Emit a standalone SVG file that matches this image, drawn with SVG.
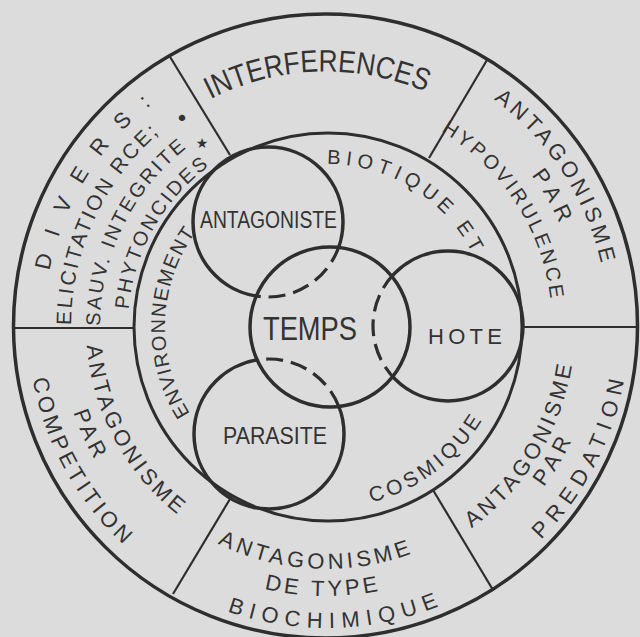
<svg xmlns="http://www.w3.org/2000/svg" width="640" height="637" viewBox="0 0 640 637">
<style>
.ln{fill:none;stroke:#2e2e2e}
.thick{stroke-width:3.5}
.mid{stroke-width:3}
.div{stroke-width:2.2}
.dash{stroke-dasharray:17 8;stroke-width:3.2}
.t{font-family:"Liberation Sans",Arial,sans-serif;fill:#333333}
.sym{font-family:"DejaVu Sans",sans-serif;fill:#333333}
</style>
<defs>
<path id="pInter" d="M155.7,136.9 A254.5,254.5 0 0 1 482.7,125.5"/>
<path id="pH1" d="M453.2,74.3 A282,282 0 0 1 607.6,310.3"/>
<path id="pH2" d="M489.9,130.7 A255,255 0 0 1 577.1,281.7"/>
<path id="pH3" d="M420.8,120.8 A226,226 0 0 1 552,321.3"/>
<path id="pP1" d="M444.1,545.2 A249,249 0 0 0 574.9,333.4"/>
<path id="pP2" d="M497.3,536 A271,271 0 0 0 592.2,376.8"/>
<path id="pP3" d="M497.2,576 A303,303 0 0 0 629,323.9"/>
<path id="pB1" d="M193.7,529.8 A243,243 0 0 0 436.3,542.5"/>
<path id="pB2" d="M207.6,568.7 A270,270 0 0 0 435.8,572.6"/>
<path id="pB3" d="M190.8,596 A302,302 0 0 0 474.3,589.1"/>
<path id="pC1" d="M86.1,318.5 A240,240 0 0 0 199.5,530"/>
<path id="pC2" d="M59.8,346.5 A267,267 0 0 0 135.2,512.8"/>
<path id="pC3" d="M28,329.6 A298,298 0 0 0 162.4,575.1"/>
<path id="pD1" d="M44.5,308.8 A282,282 0 0 1 182.9,83"/>
<path id="pD2" d="M71.5,341.1 A255,255 0 0 1 171.1,123.4"/>
<path id="pD3" d="M100.6,342.2 A226,226 0 0 1 199.3,138.8"/>
<path id="pD4" d="M128,328.6 A198,198 0 0 1 224.8,155.8"/>
<path id="pEnv" d="M200,427.6 A162,162 0 0 1 205.9,219.4"/>
<path id="pBio" d="M308.5,165 A163,163 0 0 1 479.7,269.9"/>
<path id="pCos" d="M341.2,507.4 A181,181 0 0 0 495.4,393.3"/>
<clipPath id="inT"><circle cx="330" cy="327" r="80"/></clipPath>
<mask id="outT" maskUnits="userSpaceOnUse" x="0" y="0" width="640" height="637">
<rect x="0" y="0" width="640" height="637" fill="#fff"/>
<circle cx="330" cy="327" r="80" fill="#000"/>
</mask>
</defs>
<rect x="0" y="0" width="640" height="637" fill="#dcdcdc"/>

<g id="outer-ring">
<circle class="ln thick" cx="325.5" cy="326" r="312"/>
</g>
<g id="environnement-ring">
<circle class="ln mid" cx="328" cy="327" r="194"/>
<text class="t" font-size="20"><textPath href="#pEnv" startOffset="50%" text-anchor="middle" textLength="192">ENVIRONNEMENT</textPath></text>
<text class="t" font-size="20"><textPath href="#pBio" startOffset="50%" text-anchor="middle" textLength="179">BIOTIQUE ET</textPath></text>
<text class="t" font-size="21"><textPath href="#pCos" startOffset="50%" text-anchor="middle" textLength="141">COSMIQUE</textPath></text>
</g>

<g id="connectors">
<line class="ln div" x1="169.5" y1="56" x2="230" y2="155"/>
<line class="ln div" x1="487" y1="60" x2="429" y2="158"/>
<line class="ln div" x1="522" y1="327" x2="637.5" y2="327"/>
<line class="ln div" x1="493" y1="590" x2="433" y2="490"/>
<line class="ln div" x1="173" y1="594" x2="230" y2="499"/>
<line class="ln div" x1="14" y1="328" x2="134" y2="328"/>
</g>

<g id="sector-interferences">
<text class="t" font-size="31"><textPath href="#pInter" startOffset="50%" text-anchor="middle" textLength="222" lengthAdjust="spacingAndGlyphs">INTERFERENCES</textPath></text>
</g>
<g id="sector-hypovirulence">
<text class="t" font-size="22"><textPath href="#pH1" startOffset="50%" text-anchor="middle" textLength="200">ANTAGONISME</textPath></text>
<text class="t" font-size="22"><textPath href="#pH2" startOffset="50%" text-anchor="middle" textLength="56">PAR</textPath></text>
<text class="t" font-size="20"><textPath href="#pH3" startOffset="50%" text-anchor="middle" textLength="207">HYPOVIRULENCE</textPath></text>
</g>
<g id="sector-predation">
<text class="t" font-size="22"><textPath href="#pP1" startOffset="50%" text-anchor="middle" textLength="196">ANTAGONISME</textPath></text>
<text class="t" font-size="22"><textPath href="#pP2" startOffset="50%" text-anchor="middle" textLength="54">PAR</textPath></text>
<text class="t" font-size="22"><textPath href="#pP3" startOffset="50%" text-anchor="middle" textLength="182">PREDATION</textPath></text>
</g>
<g id="sector-biochimique">
<text class="t" font-size="22"><textPath href="#pB1" startOffset="50%" text-anchor="middle" textLength="199">ANTAGONISME</textPath></text>
<text class="t" font-size="22"><textPath href="#pB2" startOffset="50%" text-anchor="middle" textLength="115">DE TYPE</textPath></text>
<text class="t" font-size="22"><textPath href="#pB3" startOffset="50%" text-anchor="middle" textLength="216">BIOCHIMIQUE</textPath></text>
</g>
<g id="sector-competition">
<text class="t" font-size="22"><textPath href="#pC1" startOffset="50%" text-anchor="middle" textLength="197">ANTAGONISME</textPath></text>
<text class="t" font-size="22"><textPath href="#pC2" startOffset="50%" text-anchor="middle" textLength="52">PAR</textPath></text>
<text class="t" font-size="22"><textPath href="#pC3" startOffset="50%" text-anchor="middle" textLength="192">COMPETITION</textPath></text>
</g>
<g id="sector-divers">
<text class="t" font-size="22"><textPath href="#pD1" startOffset="50%" text-anchor="middle" textLength="199">DIVERS:</textPath></text>
<text class="t" font-size="21"><textPath href="#pD2" startOffset="50%" text-anchor="middle" textLength="217">ELICITATION RCE;</textPath></text>
<text class="t" font-size="20"><textPath href="#pD3" startOffset="50%" text-anchor="middle" textLength="204">SAUV. INTEGRITE</textPath></text>
<text class="t" font-size="20"><textPath href="#pD4" startOffset="50%" text-anchor="middle" textLength="169">PHYTONCIDES</textPath></text>
<text class="sym" font-size="22" x="182" y="126" text-anchor="middle">•</text>
<text class="sym" font-size="14" x="202" y="148" text-anchor="middle">★</text>
</g>

<g id="antagoniste">
<circle class="ln thick" cx="268" cy="222" r="75" mask="url(#outT)"/>
<circle class="ln dash" cx="268" cy="222" r="75" clip-path="url(#inT)"/>
<text class="t" font-size="23" x="268.5" y="228" text-anchor="middle" textLength="137" lengthAdjust="spacingAndGlyphs">ANTAGONISTE</text>
</g>
<g id="parasite">
<circle class="ln thick" cx="269" cy="434" r="75" mask="url(#outT)"/>
<circle class="ln dash" cx="269" cy="434" r="75" clip-path="url(#inT)"/>
<text class="t" font-size="23" x="275" y="444" text-anchor="middle" textLength="104" lengthAdjust="spacingAndGlyphs">PARASITE</text>
</g>
<g id="hote">
<circle class="ln thick" cx="448" cy="326" r="75" mask="url(#outT)"/>
<circle class="ln dash" cx="448" cy="326" r="75" clip-path="url(#inT)"/>
<text class="t" font-size="22" x="465" y="344" text-anchor="middle" textLength="74">HOTE</text>
</g>
<g id="temps">
<circle class="ln thick" cx="330" cy="327" r="80"/>
<text class="t" font-size="33" x="310" y="340" text-anchor="middle" textLength="94" lengthAdjust="spacingAndGlyphs">TEMPS</text>
</g>
</svg>
